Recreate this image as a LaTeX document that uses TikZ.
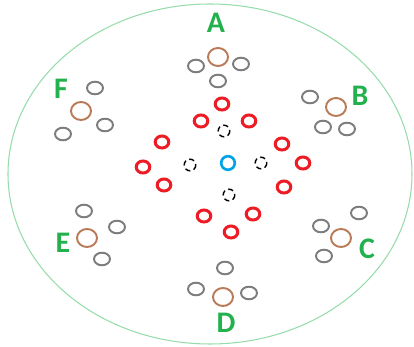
\documentclass[tikz,border=0pt]{standalone}
\usepackage{fontspec}
\setmainfont{Carlito}
\usepackage{tikz}
\usetikzlibrary{calc}
\definecolor{lblgreen}{RGB}{34,177,76}
\definecolor{rimgreen}{RGB}{150,220,170}
\definecolor{brwn}{RGB}{185,122,87}
\definecolor{gry}{RGB}{125,125,125}
\definecolor{rd}{RGB}{237,28,36}
\definecolor{blu}{RGB}{0,162,232}
\def\greyRing(#1){\draw[color=gry, line width=1.1pt] (#1) ellipse (8 and 6.3);}
\def\brownRing(#1){\draw[color=brwn, line width=1.1pt] (#1) ellipse (10 and 9);}
\def\redRing(#1){\draw[color=rd, line width=1.7pt] (#1) ellipse (6.8 and 6);}
\def\blackRing(#1){\draw[densely dashed, line width=0.8pt] (#1) circle (5.8);}

\begin{document}
\begin{tikzpicture}[x=0.02cm, y=-0.02cm]
  \useasboundingbox (0,0) rectangle (414,347);
  \draw[color=rimgreen, line width=0.6pt] (210,174) ellipse (202 and 170);
  % centre
  \draw[color=blu, line width=1.5pt] (228,163) circle (6.8);
  \foreach \p in {{224,131},{190,165},{261,163},{229,195}}
    {\blackRing(\p)}
  \foreach \p in {{222,104},{201,121},{249,121},{162,142},{143,167},{164,185},
                  {282,144},{303,163},{284,187},{204,216},{253,214},{231,232}}
    {\redRing(\p)}
  % outer groups
  \foreach \p in {{218,57},{81,111},{336,107},{87,238},{341,238},{223,297}}
    {\brownRing(\p)}
  \foreach \p in {{196,66},{241,64},{218,81},
                  {95,88},{105,125},{63,134},
                  {310,97},{323,127},{347,129},
                  {84,211},{117,227},{102,259},
                  {359,213},{321,226},{324,256},
                  {225,268},{196,289},{249,293}}
    {\greyRing(\p)}
  \begin{scope}[every node/.style={color=lblgreen, font=\fontsize{17}{17}\selectfont\bfseries}]
  \draw (216,23) node (A) {A};
  \draw (360,96) node (B) {B};
  \draw (367,249) node (C) {C};
  \draw (226,323) node (D) {D};
  \draw (63,243) node (E) {E};
  \draw (61,89) node (F) {F};
  \end{scope}
\end{tikzpicture}
\end{document}
